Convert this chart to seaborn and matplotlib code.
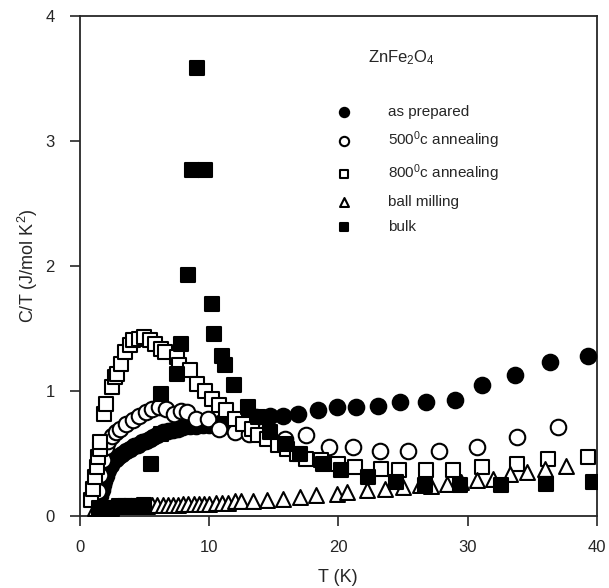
import matplotlib
matplotlib.use("Agg")
import matplotlib.pyplot as plt
import seaborn as sns

# --- data: T (K) and C/T (J/mol K^2) ---
T_prep = [1.5, 1.6, 1.7, 1.8, 1.9, 2.0, 2.2, 2.4, 2.6, 2.8, 3.0, 3.3, 3.6, 3.9, 4.2, 4.5, 4.8,
          5.1, 5.4, 5.7, 6.0, 6.4, 6.8, 7.2, 7.6, 8.0, 8.5, 9.0, 9.5, 10.0, 10.5, 11.0, 11.5,
          12.0, 12.5, 13.0, 13.6, 14.7, 15.7, 16.9, 18.4, 19.9, 21.4, 23.1, 24.8, 26.8, 29.0,
          31.1, 33.7, 36.4, 39.3]
C_prep = [0.10, 0.16, 0.21, 0.25, 0.28, 0.32, 0.37, 0.41, 0.44, 0.46, 0.48, 0.50, 0.52, 0.54,
          0.56, 0.57, 0.59, 0.60, 0.62, 0.63, 0.65, 0.67, 0.68, 0.69, 0.70, 0.71, 0.72, 0.72,
          0.73, 0.73, 0.74, 0.75, 0.76, 0.76, 0.77, 0.78, 0.79, 0.80, 0.80, 0.82, 0.85, 0.87,
          0.87, 0.88, 0.91, 0.91, 0.93, 1.05, 1.13, 1.23, 1.28]

T_500 = [1.4, 1.6, 1.8, 2.0, 2.2, 2.5, 2.8, 3.1, 3.6, 4.1, 4.6, 5.1, 5.6, 6.1, 6.7, 7.3, 7.8,
         8.3, 9.0, 9.9, 10.8, 12.0, 13.1, 14.2, 15.9, 17.5, 19.3, 21.1, 23.2, 25.4, 27.8, 30.7,
         33.8, 37.0]
C_500 = [0.20, 0.33, 0.45, 0.55, 0.60, 0.64, 0.67, 0.70, 0.74, 0.77, 0.80, 0.83, 0.86, 0.87,
         0.86, 0.82, 0.84, 0.83, 0.78, 0.78, 0.70, 0.67, 0.66, 0.65, 0.62, 0.65, 0.55, 0.55,
         0.52, 0.52, 0.52, 0.55, 0.63, 0.71]

T_800 = [0.9, 1.0, 1.2, 1.3, 1.4, 1.55, 1.6, 1.9, 2.0, 2.5, 2.7, 2.9, 3.2, 3.5, 3.9, 4.1, 4.6,
         5.0, 5.4, 5.8, 6.3, 6.6, 7.5, 7.7, 8.5, 9.1, 9.7, 10.2, 10.8, 11.3, 12.0, 12.6, 13.3,
         13.8, 14.5, 15.3, 16.0, 16.8, 17.5, 18.7, 20.0, 21.3, 23.3, 24.7, 26.8, 28.9, 31.1,
         33.8, 36.2, 39.3]
C_800 = [0.13, 0.22, 0.31, 0.39, 0.47, 0.54, 0.59, 0.82, 0.90, 1.03, 1.11, 1.14, 1.22, 1.31,
         1.37, 1.41, 1.42, 1.43, 1.41, 1.38, 1.34, 1.31, 1.27, 1.21, 1.17, 1.06, 1.00, 0.94,
         0.89, 0.85, 0.78, 0.74, 0.70, 0.65, 0.62, 0.57, 0.54, 0.50, 0.46, 0.45, 0.42, 0.39,
         0.38, 0.37, 0.37, 0.37, 0.39, 0.42, 0.46, 0.47]

T_ball = [1.2, 1.6, 2.0, 2.4, 2.8, 3.2, 3.6, 4.0, 4.4, 4.8, 5.2, 5.6, 6.0, 6.4, 6.8, 7.2, 7.6,
          8.0, 8.4, 8.8, 9.2, 9.6, 10.0, 10.5, 11.0, 11.5, 12.0, 12.5, 13.4, 14.5, 15.7, 17.0,
          18.3, 19.9, 20.7, 22.2, 23.6, 25.0, 26.3, 27.2, 28.4, 29.5, 30.7, 32.0, 33.3, 34.6,
          36.0, 37.6]
C_ball = [0.07, 0.07, 0.07, 0.07, 0.08, 0.08, 0.08, 0.08, 0.08, 0.08, 0.08, 0.09, 0.09, 0.09,
          0.09, 0.09, 0.09, 0.10, 0.10, 0.10, 0.10, 0.10, 0.10, 0.11, 0.11, 0.11, 0.12, 0.12,
          0.12, 0.13, 0.14, 0.15, 0.17, 0.18, 0.19, 0.21, 0.22, 0.23, 0.25, 0.24, 0.26, 0.27,
          0.29, 0.30, 0.34, 0.35, 0.38, 0.40]

T_bulk = [1.5, 2.0, 2.5, 3.0, 3.5, 4.0, 4.5, 5.0, 5.5, 6.3, 6.3, 7.5, 7.8, 8.4, 8.7, 9.05, 9.7,
          10.2, 10.4, 11.0, 11.2, 11.9, 13.0, 13.8, 14.7, 15.9, 17.0, 18.8, 20.2, 22.3, 24.5,
          26.7, 29.4, 32.6, 36.1, 39.7]
C_bulk = [0.07, 0.07, 0.07, 0.08, 0.08, 0.08, 0.08, 0.09, 0.42, 0.66, 0.98, 1.14, 1.38, 1.93,
          2.77, 3.58, 2.77, 1.70, 1.46, 1.28, 1.21, 1.05, 0.87, 0.79, 0.67, 0.58, 0.50, 0.42,
          0.37, 0.31, 0.27, 0.25, 0.25, 0.25, 0.26, 0.27]

labels = ["as prepared", "500$^0$c annealing", "800$^0$c annealing", "ball milling", "bulk"]

sns.set_style("ticks")
plt.rcParams['font.family'] = ['Liberation Sans', 'DejaVu Sans']
plt.rcParams['mathtext.fontset'] = 'custom'
plt.rcParams['mathtext.rm'] = 'Liberation Sans'
plt.rcParams['mathtext.it'] = 'Liberation Sans'

fig = plt.figure(figsize=(6.09, 5.88), dpi=100)
ax = fig.add_axes([0.131, 0.122, 0.849, 0.851])

# as prepared, 500, 800, ball milling, bulk
series = [
    (T_prep, C_prep, "o", "black", 125),
    (T_500, C_500, "o", "white", 125),
    (T_800, C_800, "s", "white", 95),
    (T_ball, C_ball, "^", "white", 115),
    (T_bulk, C_bulk, "s", "black", 95),
]
for (t, c, m, fc, s), lab in zip(series, labels):
    sns.scatterplot(x=t, y=c, marker=m, color=fc, edgecolor="black", linewidth=1.5,
                    s=s, ax=ax, label=lab, zorder=3)

ax.set_xlim(0, 40)
ax.set_ylim(0, 4)
ax.set_xticks([0, 10, 20, 30, 40])
ax.set_yticks([0, 1, 2, 3, 4])
ax.tick_params(direction="out", length=7, width=1.2, labelsize=12)
ax.tick_params(axis="x", pad=10)
ax.tick_params(axis="y", pad=11)
for sp in ax.spines.values():
    sp.set_linewidth(1.3)
    sp.set_visible(True)

ax.set_xlabel("T (K)", fontsize=13, labelpad=10)
ax.set_ylabel("C/T (J/mol K$^2$)", fontsize=13, labelpad=4)

ax.text(0.623, 0.916, "ZnFe$_2$O$_4$", transform=ax.transAxes, fontsize=12,
        ha="center", va="center")
ax.legend(loc="upper left", bbox_to_anchor=(0.47, 0.835), frameon=False, fontsize=11,
          markerscale=0.6, handletextpad=1.9, labelspacing=0.72, borderaxespad=0)

fig.savefig("out.png", dpi=100)
